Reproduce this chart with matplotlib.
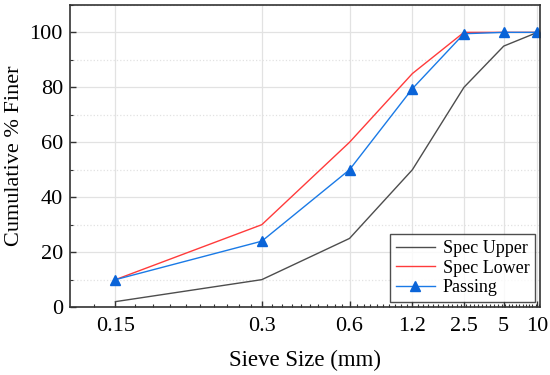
import numpy as np
import matplotlib
matplotlib.use('Agg')
import matplotlib.pyplot as plt
from matplotlib.ticker import FixedLocator, MultipleLocator, NullFormatter

sizes = [0.15, 0.3, 0.6, 1.2, 2.5, 5, 10]
size_labels = ['0.15', '0.3', '0.6', '1.2', '2.5', '5', '10']
spec_upper = [2, 10, 25, 50, 80, 95, 100]
spec_lower = [10, 30, 60, 85, 100, 100, 100]
passing = [10, 24, 50, 79.5, 99.5, 100, 100]

plt.rcParams['font.family'] = ['Liberation Serif', 'DejaVu Serif']


# compressed sieve axis (roughly log of log10 size)
def fwd(x):
    x = np.clip(np.asarray(x, dtype=float), 0.075, None)
    return np.log(np.log10(x) + 1.15)


def inv(t):
    return 10 ** (np.exp(t) - 1.15)


fig = plt.figure(figsize=(5.5, 3.75), dpi=100)
ax = fig.add_axes([0.127, 0.181, 0.855, 0.806])
ax.set_xscale('function', functions=(fwd, inv))

ax.plot(sizes, spec_upper, color='#4d4d4d', lw=1.0, label='Spec Upper')
ax.plot(sizes, spec_lower, color='#ff3b3b', lw=1.0, label='Spec Lower')
ax.plot(sizes, passing, color='#1a7ae6', lw=1.0, marker='^', ms=7,
        markerfacecolor='#0a64d8', markeredgecolor='#0a64d8', label='Passing')

ax.set_xlim(0.1306, 10.6)
ax.set_ylim(0, 110)

ax.xaxis.set_major_locator(FixedLocator(sizes))
ax.set_xticklabels(size_labels)
minor = 0.15 * 2 ** (np.arange(-2, 65) / 10)
ax.xaxis.set_minor_locator(FixedLocator(minor))
ax.xaxis.set_minor_formatter(NullFormatter())
ax.yaxis.set_major_locator(MultipleLocator(20))
ax.yaxis.set_minor_locator(MultipleLocator(10))

ax.grid(True, which='major', color='#e2e2e2', lw=0.9)
ax.grid(True, which='minor', axis='y', color='#e2e2e2', lw=0.9, ls=':')
ax.set_axisbelow(True)

ax.tick_params(which='both', direction='in', labelsize=16, color='#333333')
ax.tick_params(which='major', length=4, width=1)
ax.tick_params(which='minor', length=2, width=0.8)
ax.tick_params(axis='x', which='major', pad=7)
ax.tick_params(axis='y', which='major', pad=5)
for s in ax.spines.values():
    s.set_color('#333333')
    s.set_linewidth(1.2)

ax.set_xlabel('Sieve Size (mm)', fontsize=16.5, labelpad=10)
ax.set_ylabel('Cumulative % Finer', fontsize=16, labelpad=4)

leg = ax.legend(loc='lower right', fontsize=13, frameon=True, fancybox=False,
                edgecolor='#222222', handlelength=2.2, borderpad=0.3,
                labelspacing=0.15, handletextpad=0.4, borderaxespad=0.3)
leg.get_frame().set_linewidth(1.0)

fig.savefig('out.png', dpi=100)
